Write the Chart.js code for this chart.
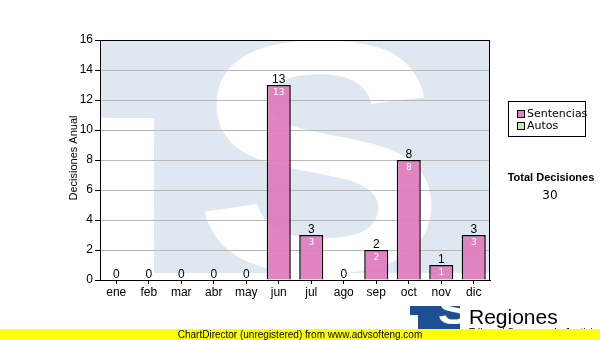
<!DOCTYPE html>
<html lang="es">
<head>
<meta charset="UTF-8">
<title>Decisiones Anual</title>
<script src="https://cdn.jsdelivr.net/npm/chart.js"></script>
<style>
    html, body { margin: 0; padding: 0; background: #fff; }
    #wrap { width: 600px; height: 340px; }
</style>
</head>
<body>
<div id="wrap"><canvas id="chartCanvas" width="600" height="340"></canvas></div>
<script>
    // datos
    const meses = ['ene', 'feb', 'mar', 'abr', 'may', 'jun', 'jul', 'ago', 'sep', 'oct', 'nov', 'dic'];
    const sentencias = [0, 0, 0, 0, 0, 13, 3, 0, 2, 8, 1, 3];
    const autos = [0, 0, 0, 0, 0, 0, 0, 0, 0, 0, 0, 0];
    const yTicks = [0, 2, 4, 6, 8, 10, 12, 14, 16];
    const totalDecisiones = 30;

    const FONT = '"Liberation Sans", Arial, sans-serif';
    const PINK = 'rgba(222,122,188,0.92)';
    const GREEN = '#cce99a';

    // dibuja una "S" ajustada a una caja
    function drawS(ctx, color, x0, y0, x1, y1) {
        ctx.save();
        ctx.font = 'bold 200px ' + FONT;
        const m = ctx.measureText('S');
        const w = m.actualBoundingBoxLeft + m.actualBoundingBoxRight;
        const h = m.actualBoundingBoxAscent + m.actualBoundingBoxDescent;
        ctx.translate(x0, y0);
        ctx.scale((x1 - x0) / w, (y1 - y0) / h);
        ctx.fillStyle = color;
        ctx.textBaseline = 'alphabetic';
        ctx.textAlign = 'left';
        ctx.fillText('S', m.actualBoundingBoxLeft, m.actualBoundingBoxAscent);
        ctx.restore();
    }

    // fondo blanco + marca de agua "TS"
    const fondo = {
        id: 'fondo',
        beforeDraw(chart) {
            const ctx = chart.ctx;
            const a = chart.chartArea;
            ctx.save();
            ctx.fillStyle = '#fff';
            ctx.fillRect(0, 0, chart.width, chart.height);
            ctx.beginPath();
            ctx.rect(a.left, a.top, a.right - a.left, a.bottom - a.top);
            ctx.clip();
            ctx.fillStyle = '#dfe8f1';
            ctx.fillRect(a.left, a.top, a.right - a.left, 233);
            ctx.fillStyle = '#fff';
            ctx.fillRect(a.left, 118, 54, 160);
            drawS(ctx, '#fff', 203, 40, 432, 274);
            ctx.restore();
        }
    };

    // etiquetas de valores
    const etiquetas = {
        id: 'etiquetas',
        afterDatasetsDraw(chart) {
            const ctx = chart.ctx;
            const meta = chart.getDatasetMeta(0);
            const y = chart.scales.y;
            ctx.save();
            ctx.textAlign = 'center';
            meta.data.forEach((bar, i) => {
                const total = sentencias[i] + autos[i];
                const top = y.getPixelForValue(total);
                ctx.fillStyle = '#000';
                ctx.font = '12px ' + FONT;
                ctx.textBaseline = 'bottom';
                ctx.fillText(String(total), bar.x, top + 1);
                if (sentencias[i] > 0) {
                    ctx.fillStyle = '#fff';
                    ctx.font = '9px "DejaVu Sans"';
                    ctx.textBaseline = 'top';
                    ctx.fillText(String(sentencias[i]), bar.x, top + 3);
                }
            });
            ctx.restore();
        }
    };

    // leyenda, titulo del eje, logo y pie
    const extras = {
        id: 'extras',
        afterDraw(chart) {
            const ctx = chart.ctx;
            const a = chart.chartArea;
            ctx.save();
            ctx.strokeStyle = '#000';
            ctx.lineWidth = 1;
            ctx.strokeRect(a.left + 0.5, a.top + 0.5, a.right - a.left - 1, a.bottom - a.top);

            // titulo eje y
            ctx.save();
            ctx.translate(74, 158);
            ctx.rotate(-Math.PI / 2);
            ctx.fillStyle = '#000';
            ctx.font = '11px ' + FONT;
            ctx.textAlign = 'center';
            ctx.textBaseline = 'middle';
            ctx.fillText('Decisiones Anual', 0, 0);
            ctx.restore();

            // leyenda
            ctx.strokeRect(508.5, 101.5, 77, 35);
            const items = [['Sentencias', PINK], ['Autos', GREEN]];
            ctx.font = '11px "DejaVu Sans"';
            ctx.textBaseline = 'middle';
            ctx.textAlign = 'left';
            items.forEach((it, k) => {
                const yy = 114 + k * 12;
                ctx.fillStyle = it[1];
                ctx.fillRect(517, yy - 4, 7, 7);
                ctx.strokeRect(517.5, yy - 3.5, 7, 7);
                ctx.fillStyle = '#000';
                ctx.fillText(it[0], 527, yy);
            });

            // total
            ctx.textAlign = 'center';
            ctx.font = 'bold 11px ' + FONT;
            ctx.fillText('Total Decisiones', 551, 178);
            ctx.font = '12px "DejaVu Sans"';
            ctx.fillText(String(totalDecisiones), 550, 196);

            // logo
            ctx.save();
            ctx.beginPath();
            ctx.rect(410, 306, 50, 30);
            ctx.clip();
            ctx.fillStyle = '#1d4f92';
            ctx.fillRect(410, 306, 50, 30);
            ctx.fillStyle = '#fff';
            ctx.fillRect(410, 315, 8, 20);
            drawS(ctx, '#fff', 423, 307, 452, 336);
            ctx.restore();
            ctx.fillStyle = '#000';
            ctx.font = '21px ' + FONT;
            ctx.textAlign = 'left';
            ctx.textBaseline = 'alphabetic';
            ctx.fillText('Regiones', 469, 324);
            ctx.font = '10px ' + FONT;
            ctx.fillText('Tribunal Supremo de Justicia', 469, 336);

            // pie amarillo
            ctx.fillStyle = '#ffff00';
            ctx.fillRect(0, 329, 600, 11);
            ctx.fillStyle = '#000';
            ctx.font = '10px ' + FONT;
            ctx.textAlign = 'center';
            ctx.textBaseline = 'middle';
            ctx.fillText('ChartDirector (unregistered) from www.advsofteng.com', 300, 335);
            ctx.restore();
        }
    };

    new Chart(document.getElementById('chartCanvas'), {
        type: 'bar',
        data: {
            labels: meses,
            datasets: [{
                label: 'Sentencias',
                data: sentencias,
                backgroundColor: PINK,
                borderColor: '#000',
                borderWidth: 1.5,
                borderSkipped: 'bottom'
            }, {
                label: 'Autos',
                data: autos,
                backgroundColor: GREEN,
                borderColor: '#000',
                borderWidth: 0
            }]
        },
        options: {
            responsive: false,
            animation: false,
            layout: { padding: { left: 0, top: 40, right: 110, bottom: 0 } },
            datasets: { bar: { categoryPercentage: 1, barPercentage: 0.74 } },
            plugins: { legend: { display: false }, tooltip: { enabled: false } },
            scales: {
                x: {
                    stacked: true,
                    afterFit(s) { s.height = 60; },
                    border: { color: '#000', width: 1 },
                    grid: { offset: false, drawOnChartArea: false, drawTicks: true, tickLength: 4, color: '#000' },
                    ticks: { color: '#000', font: { family: FONT, size: 12 }, padding: 1 }
                },
                y: {
                    stacked: true,
                    min: 0,
                    max: 16,
                    afterFit(s) { s.width = 100; },
                    afterBuildTicks(s) { s.ticks = yTicks.map(v => ({ value: v })); },
                    border: { color: '#000', width: 1 },
                    grid: { color: '#b8b8b8', tickColor: '#000', tickLength: 5, drawTicks: true },
                    ticks: { color: '#000', font: { family: FONT, size: 12 }, padding: 2 }
                }
            }
        },
        plugins: [fondo, etiquetas, extras]
    });
</script>
</body>
</html>
